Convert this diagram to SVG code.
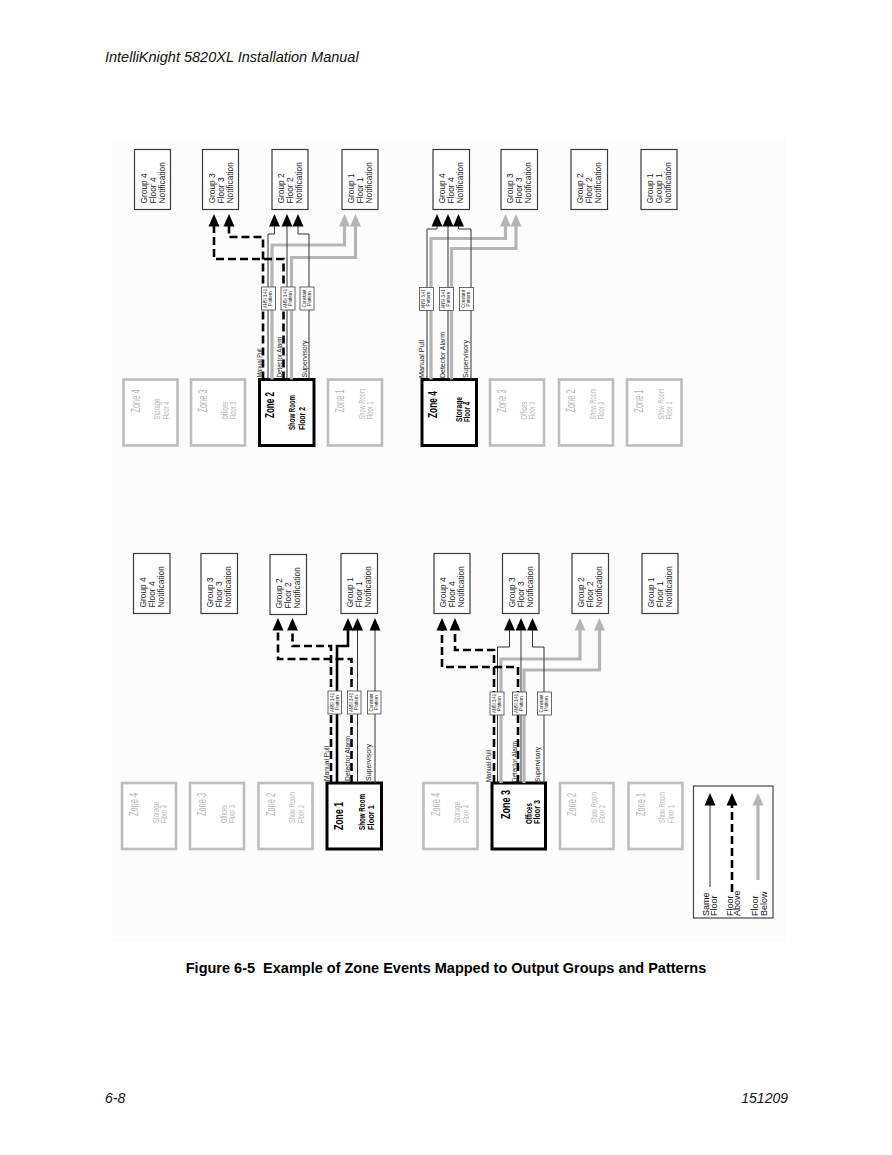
<svg xmlns="http://www.w3.org/2000/svg" xmlns:xlink="http://www.w3.org/1999/xlink" width="892" height="1155" viewBox="0 0 892 1155">
<style>
text{font-family:"Liberation Sans",Arial,Helvetica,sans-serif}
.grp rect{fill:#fff;stroke:#3a3a3a;stroke-width:1.2}
.gt{font-size:8.4px;fill:#222}
.zoff rect{fill:#fff;stroke:#bdbdbd;stroke-width:2.6}
.zoff text{fill:#b5b5b5}
.zn0{font-size:12px}
.zs0{font-size:8.3px}
.zon rect{fill:#fff;stroke:#000;stroke-width:3}
.zn1{font-size:13.5px;font-weight:bold;fill:#000}
.zs1{font-size:9.2px;font-weight:bold;fill:#000}
.pat rect{fill:#fff;stroke:#444;stroke-width:0.8}
.pt{font-size:4.6px;fill:#222;text-anchor:middle}
.sig{font-size:7px;fill:#222}
.thin{fill:none;stroke:#333;stroke-width:1}
.dash{fill:none;stroke:#000;stroke-width:2.6;stroke-dasharray:8 4}
.gray{fill:none;stroke:#b5b5b5;stroke-width:3.2}
.thick{fill:none;stroke:#000;stroke-width:2.6}
.ab{fill:#000}
.ag{fill:#b5b5b5}
.lg{font-size:9px;fill:#111}
</style>
<defs>
<path id="ah" d="M0,0 L5.5,12.5 L-5.5,12.5 Z"/>
</defs>
<rect x="112" y="137" width="673" height="805" fill="#fcfcfc"/>
<text x="105" y="62" font-size="14.5" font-style="italic" fill="#111">IntelliKnight 5820XL Installation Manual</text>

<!-- ===== Top-left quadrant: Zone 2 ===== -->
<g id="tl-group4" class="grp"><rect x="134.5" y="149.5" width="36" height="60"/>
<text class="gt" transform="translate(146.5,203.5) rotate(-90)">Group 4</text>
<text class="gt" transform="translate(155.5,203.5) rotate(-90)">Floor 4</text>
<text class="gt" transform="translate(164.5,203.5) rotate(-90)">Notification</text></g>
<g id="tl-group3" class="grp"><rect x="202.5" y="149.5" width="36" height="60"/>
<text class="gt" transform="translate(214.5,203.5) rotate(-90)">Group 3</text>
<text class="gt" transform="translate(223.5,203.5) rotate(-90)">Floor 3</text>
<text class="gt" transform="translate(232.5,203.5) rotate(-90)">Notification</text></g>
<g id="tl-group2" class="grp"><rect x="272" y="149.5" width="36" height="60"/>
<text class="gt" transform="translate(284,203.5) rotate(-90)">Group 2</text>
<text class="gt" transform="translate(293,203.5) rotate(-90)">Floor 2</text>
<text class="gt" transform="translate(302,203.5) rotate(-90)">Notification</text></g>
<g id="tl-group1" class="grp"><rect x="342" y="149.5" width="36" height="60"/>
<text class="gt" transform="translate(354,203.5) rotate(-90)">Group 1</text>
<text class="gt" transform="translate(363,203.5) rotate(-90)">Floor 1</text>
<text class="gt" transform="translate(372,203.5) rotate(-90)">Notification</text></g>

<g id="tl-zone4" class="zoff"><rect x="123.5" y="379.5" width="54" height="66"/>
<text class="zn0" transform="translate(139.8,412.5) rotate(-90)" textLength="23" lengthAdjust="spacingAndGlyphs">Zone 4</text>
<text class="zs0" transform="translate(160.3,419.5) rotate(-90)" textLength="21" lengthAdjust="spacingAndGlyphs">Storage</text>
<text class="zs0" transform="translate(168.8,419.5) rotate(-90)" textLength="18" lengthAdjust="spacingAndGlyphs">Floor 4</text></g>
<g id="tl-zone3" class="zoff"><rect x="191" y="379.5" width="54" height="66"/>
<text class="zn0" transform="translate(207.3,412.5) rotate(-90)" textLength="23" lengthAdjust="spacingAndGlyphs">Zone 3</text>
<text class="zs0" transform="translate(227.8,419.5) rotate(-90)" textLength="18" lengthAdjust="spacingAndGlyphs">Offices</text>
<text class="zs0" transform="translate(236.3,419.5) rotate(-90)" textLength="18" lengthAdjust="spacingAndGlyphs">Floor 3</text></g>
<g id="tl-zone2" class="zon"><rect x="259.5" y="379.5" width="54.5" height="66"/>
<text class="zn1" transform="translate(274,418) rotate(-90)" textLength="26" lengthAdjust="spacingAndGlyphs">Zone 2</text>
<text class="zs1" transform="translate(295,430) rotate(-90)" textLength="35" lengthAdjust="spacingAndGlyphs">Show Room</text>
<text class="zs1" transform="translate(305,430) rotate(-90)" textLength="23" lengthAdjust="spacingAndGlyphs">Floor 2</text></g>
<g id="tl-zone1" class="zoff"><rect x="328" y="379.5" width="54" height="66"/>
<text class="zn0" transform="translate(344.3,412.5) rotate(-90)" textLength="23" lengthAdjust="spacingAndGlyphs">Zone 1</text>
<text class="zs0" transform="translate(364.8,419.5) rotate(-90)" textLength="31" lengthAdjust="spacingAndGlyphs">Show Room</text>
<text class="zs0" transform="translate(373.3,419.5) rotate(-90)" textLength="18" lengthAdjust="spacingAndGlyphs">Floor 1</text></g>

<g id="tl-connectors">
<path class="gray" d="M272,379.5 V245 H344.5 V226 M291.5,379.5 V257.5 H355.5 V226"/>
<path class="thin" d="M268,379.5 V234 H274.5 V225 M287,379.5 V225 M309,379.5 V234 H298 V225"/>
<path class="dash" d="M263,379.5 V237 H229 V226 M283.5,379.5 V259 H214 V226"/>
<use xlink:href="#ah" href="#ah" class="ab" x="214" y="214"/>
<use xlink:href="#ah" href="#ah" class="ab" x="229" y="214"/>
<use xlink:href="#ah" href="#ah" class="ab" x="274.5" y="214"/>
<use xlink:href="#ah" href="#ah" class="ab" x="287" y="214"/>
<use xlink:href="#ah" href="#ah" class="ab" x="298" y="214"/>
<use xlink:href="#ah" href="#ah" class="ag" x="344.5" y="214"/>
<use xlink:href="#ah" href="#ah" class="ag" x="355.5" y="214"/>
</g>
<g id="tl-patterns" class="pat">
<rect x="261.5" y="287" width="14" height="23"/>
<text class="pt" transform="translate(267,298.5) rotate(-90)" textLength="19" lengthAdjust="spacingAndGlyphs">ANSI 3.41</text>
<text class="pt" transform="translate(272.2,298.5) rotate(-90)">Pattern</text>
<rect x="281" y="287" width="14" height="23"/>
<text class="pt" transform="translate(286.5,298.5) rotate(-90)" textLength="19" lengthAdjust="spacingAndGlyphs">ANSI 3.41</text>
<text class="pt" transform="translate(291.7,298.5) rotate(-90)">Pattern</text>
<rect x="300" y="287" width="14" height="23"/>
<text class="pt" transform="translate(305.5,298.5) rotate(-90)" textLength="18" lengthAdjust="spacingAndGlyphs">Constant</text>
<text class="pt" transform="translate(310.7,298.5) rotate(-90)">Pattern</text>
</g>
<g id="tl-signals">
<text class="sig" transform="translate(261.8,377.5) rotate(-90)" textLength="29" lengthAdjust="spacingAndGlyphs">Manual Pull</text>
<text class="sig" transform="translate(282,377.5) rotate(-90)" textLength="41" lengthAdjust="spacingAndGlyphs">Detector Alarm</text>
<text class="sig" transform="translate(307,377.5) rotate(-90)" textLength="37" lengthAdjust="spacingAndGlyphs">Supervisory</text>
</g>

<!-- ===== Top-right quadrant: Zone 4 ===== -->
<g id="tr-group4" class="grp"><rect x="433" y="149.5" width="36.5" height="60"/>
<text class="gt" transform="translate(445,203.5) rotate(-90)">Group 4</text>
<text class="gt" transform="translate(454,203.5) rotate(-90)">Floor 4</text>
<text class="gt" transform="translate(463,203.5) rotate(-90)">Notification</text></g>
<g id="tr-group3" class="grp"><rect x="501" y="149.5" width="36.5" height="60"/>
<text class="gt" transform="translate(513,203.5) rotate(-90)">Group 3</text>
<text class="gt" transform="translate(522,203.5) rotate(-90)">Floor 3</text>
<text class="gt" transform="translate(531,203.5) rotate(-90)">Notification</text></g>
<g id="tr-group2" class="grp"><rect x="571" y="149.5" width="36.5" height="60"/>
<text class="gt" transform="translate(583,203.5) rotate(-90)">Group 2</text>
<text class="gt" transform="translate(592,203.5) rotate(-90)">Floor 2</text>
<text class="gt" transform="translate(601,203.5) rotate(-90)">Notification</text></g>
<g id="tr-group1" class="grp"><rect x="641" y="149.5" width="36" height="60"/>
<text class="gt" transform="translate(653,203.5) rotate(-90)">Group 1</text>
<text class="gt" transform="translate(662,203.5) rotate(-90)">Group 1</text>
<text class="gt" transform="translate(671,203.5) rotate(-90)">Notification</text></g>

<g id="tr-zone4" class="zon"><rect x="422" y="379.5" width="54.5" height="66"/>
<text class="zn1" transform="translate(436.5,418) rotate(-90)" textLength="27" lengthAdjust="spacingAndGlyphs">Zone 4</text>
<text class="zs1" transform="translate(461.6,422) rotate(-90)" textLength="25" lengthAdjust="spacingAndGlyphs">Storage</text>
<text class="zs1" transform="translate(470,422) rotate(-90)" textLength="20" lengthAdjust="spacingAndGlyphs">Floor 4</text></g>
<g id="tr-zone3" class="zoff"><rect x="490" y="379.5" width="54" height="66"/>
<text class="zn0" transform="translate(506.3,412.5) rotate(-90)" textLength="23" lengthAdjust="spacingAndGlyphs">Zone 3</text>
<text class="zs0" transform="translate(526.8,419.5) rotate(-90)" textLength="18" lengthAdjust="spacingAndGlyphs">Offices</text>
<text class="zs0" transform="translate(535.3,419.5) rotate(-90)" textLength="18" lengthAdjust="spacingAndGlyphs">Floor 3</text></g>
<g id="tr-zone2" class="zoff"><rect x="559" y="379.5" width="54" height="66"/>
<text class="zn0" transform="translate(575.3,412.5) rotate(-90)" textLength="23" lengthAdjust="spacingAndGlyphs">Zone 2</text>
<text class="zs0" transform="translate(595.8,419.5) rotate(-90)" textLength="31" lengthAdjust="spacingAndGlyphs">Show Room</text>
<text class="zs0" transform="translate(604.3,419.5) rotate(-90)" textLength="18" lengthAdjust="spacingAndGlyphs">Floor 2</text></g>
<g id="tr-zone1" class="zoff"><rect x="627" y="379.5" width="54.5" height="66"/>
<text class="zn0" transform="translate(643.3,412.5) rotate(-90)" textLength="23" lengthAdjust="spacingAndGlyphs">Zone 1</text>
<text class="zs0" transform="translate(663.8,419.5) rotate(-90)" textLength="31" lengthAdjust="spacingAndGlyphs">Show Room</text>
<text class="zs0" transform="translate(672.3,419.5) rotate(-90)" textLength="18" lengthAdjust="spacingAndGlyphs">Floor 1</text></g>

<g id="tr-connectors">
<path class="gray" d="M431,379.5 V238.5 H505.5 V226 M451.5,379.5 V248.5 H516 V226"/>
<path class="thin" d="M427,379.5 V229 H437 V225 M448,379.5 V225 M471,379.5 V229 H458.5 V225"/>
<use xlink:href="#ah" href="#ah" class="ab" x="437" y="214"/>
<use xlink:href="#ah" href="#ah" class="ab" x="448" y="214"/>
<use xlink:href="#ah" href="#ah" class="ab" x="458.5" y="214"/>
<use xlink:href="#ah" href="#ah" class="ag" x="505.5" y="214"/>
<use xlink:href="#ah" href="#ah" class="ag" x="516" y="214"/>
</g>
<g id="tr-patterns" class="pat">
<rect x="419.5" y="287.5" width="14" height="23"/>
<text class="pt" transform="translate(425,299) rotate(-90)" textLength="19" lengthAdjust="spacingAndGlyphs">ANSI 3.41</text>
<text class="pt" transform="translate(430.2,299) rotate(-90)">Pattern</text>
<rect x="439.5" y="287.5" width="14" height="23"/>
<text class="pt" transform="translate(445,299) rotate(-90)" textLength="19" lengthAdjust="spacingAndGlyphs">ANSI 3.41</text>
<text class="pt" transform="translate(450.2,299) rotate(-90)">Pattern</text>
<rect x="459.5" y="287.5" width="14" height="23"/>
<text class="pt" transform="translate(465,299) rotate(-90)" textLength="18" lengthAdjust="spacingAndGlyphs">Constant</text>
<text class="pt" transform="translate(470.2,299) rotate(-90)">Pattern</text>
</g>
<g id="tr-signals">
<text class="sig" transform="translate(424.2,378) rotate(-90)" textLength="38" lengthAdjust="spacingAndGlyphs">Manual Pull</text>
<text class="sig" transform="translate(444.8,378) rotate(-90)" textLength="46" lengthAdjust="spacingAndGlyphs">Detector Alarm</text>
<text class="sig" transform="translate(467.5,378) rotate(-90)" textLength="38" lengthAdjust="spacingAndGlyphs">Supervisory</text>
</g>

<!-- ===== Bottom-left quadrant: Zone 1 ===== -->
<g id="bl-group4" class="grp"><rect x="133.5" y="553.5" width="36.5" height="60"/>
<text class="gt" transform="translate(145.5,607.5) rotate(-90)">Group 4</text>
<text class="gt" transform="translate(154.5,607.5) rotate(-90)">Floor 4</text>
<text class="gt" transform="translate(163.5,607.5) rotate(-90)">Notification</text></g>
<g id="bl-group3" class="grp"><rect x="201" y="553.5" width="36.5" height="60"/>
<text class="gt" transform="translate(213,607.5) rotate(-90)">Group 3</text>
<text class="gt" transform="translate(222,607.5) rotate(-90)">Floor 3</text>
<text class="gt" transform="translate(231,607.5) rotate(-90)">Notification</text></g>
<g id="bl-group2" class="grp"><rect x="270" y="554.5" width="36.5" height="60"/>
<text class="gt" transform="translate(282,608.5) rotate(-90)">Group 2</text>
<text class="gt" transform="translate(291,608.5) rotate(-90)">Floor 2</text>
<text class="gt" transform="translate(300,608.5) rotate(-90)">Notification</text></g>
<g id="bl-group1" class="grp"><rect x="341" y="553.5" width="36.5" height="60"/>
<text class="gt" transform="translate(353,607.5) rotate(-90)">Group 1</text>
<text class="gt" transform="translate(362,607.5) rotate(-90)">Floor 1</text>
<text class="gt" transform="translate(371,607.5) rotate(-90)">Notification</text></g>

<g id="bl-zone4" class="zoff"><rect x="122" y="783" width="54" height="66"/>
<text class="zn0" transform="translate(138.3,816) rotate(-90)" textLength="23" lengthAdjust="spacingAndGlyphs">Zone 4</text>
<text class="zs0" transform="translate(158.8,823) rotate(-90)" textLength="21" lengthAdjust="spacingAndGlyphs">Storage</text>
<text class="zs0" transform="translate(167.3,823) rotate(-90)" textLength="18" lengthAdjust="spacingAndGlyphs">Floor 4</text></g>
<g id="bl-zone3" class="zoff"><rect x="190" y="783" width="54" height="66"/>
<text class="zn0" transform="translate(206.3,816) rotate(-90)" textLength="23" lengthAdjust="spacingAndGlyphs">Zone 3</text>
<text class="zs0" transform="translate(226.8,823) rotate(-90)" textLength="18" lengthAdjust="spacingAndGlyphs">Offices</text>
<text class="zs0" transform="translate(235.3,823) rotate(-90)" textLength="18" lengthAdjust="spacingAndGlyphs">Floor 3</text></g>
<g id="bl-zone2" class="zoff"><rect x="258.5" y="783" width="54" height="66"/>
<text class="zn0" transform="translate(274.8,816) rotate(-90)" textLength="23" lengthAdjust="spacingAndGlyphs">Zone 2</text>
<text class="zs0" transform="translate(295.3,823) rotate(-90)" textLength="31" lengthAdjust="spacingAndGlyphs">Show Room</text>
<text class="zs0" transform="translate(303.8,823) rotate(-90)" textLength="18" lengthAdjust="spacingAndGlyphs">Floor 2</text></g>
<g id="bl-zone1" class="zon"><rect x="327" y="783" width="54.5" height="66"/>
<text class="zn1" transform="translate(343,830) rotate(-90)" textLength="28" lengthAdjust="spacingAndGlyphs">Zone 1</text>
<text class="zs1" transform="translate(365,830) rotate(-90)" textLength="36" lengthAdjust="spacingAndGlyphs">Show Room</text>
<text class="zs1" transform="translate(374,830) rotate(-90)" textLength="25" lengthAdjust="spacingAndGlyphs">Floor 1</text></g>

<g id="bl-connectors">
<path class="thin" d="M357.5,783 V629 M375,783 V629"/>
<path class="thick" d="M337,783 V646 H348 V629"/>
<path class="dash" d="M331,783 V646 H292.5 V630 M351.5,783 V659 H278 V630"/>
<use xlink:href="#ah" href="#ah" class="ab" x="278" y="618"/>
<use xlink:href="#ah" href="#ah" class="ab" x="292.5" y="618"/>
<use xlink:href="#ah" href="#ah" class="ab" x="348" y="618"/>
<use xlink:href="#ah" href="#ah" class="ab" x="357.5" y="618"/>
<use xlink:href="#ah" href="#ah" class="ab" x="375" y="618"/>
</g>
<g id="bl-patterns" class="pat">
<rect x="328" y="691" width="13.5" height="23"/>
<text class="pt" transform="translate(333.5,702.5) rotate(-90)" textLength="19" lengthAdjust="spacingAndGlyphs">ANSI 3.41</text>
<text class="pt" transform="translate(338.7,702.5) rotate(-90)">Pattern</text>
<rect x="347.5" y="691" width="13.5" height="23"/>
<text class="pt" transform="translate(353,702.5) rotate(-90)" textLength="19" lengthAdjust="spacingAndGlyphs">ANSI 3.41</text>
<text class="pt" transform="translate(358.2,702.5) rotate(-90)">Pattern</text>
<rect x="367.5" y="691" width="13.5" height="23"/>
<text class="pt" transform="translate(373,702.5) rotate(-90)" textLength="18" lengthAdjust="spacingAndGlyphs">Constant</text>
<text class="pt" transform="translate(378.2,702.5) rotate(-90)">Pattern</text>
</g>
<g id="bl-signals">
<text class="sig" transform="translate(328.5,781) rotate(-90)" textLength="35" lengthAdjust="spacingAndGlyphs">Manual Pull</text>
<text class="sig" transform="translate(350,781) rotate(-90)" textLength="45" lengthAdjust="spacingAndGlyphs">Detector Alarm</text>
<text class="sig" transform="translate(370.8,781) rotate(-90)" textLength="37" lengthAdjust="spacingAndGlyphs">Supervisory</text>
</g>

<!-- ===== Bottom-right quadrant: Zone 3 ===== -->
<g id="br-group4" class="grp"><rect x="434" y="553.5" width="36" height="60"/>
<text class="gt" transform="translate(446,607.5) rotate(-90)">Group 4</text>
<text class="gt" transform="translate(455,607.5) rotate(-90)">Floor 4</text>
<text class="gt" transform="translate(464,607.5) rotate(-90)">Notification</text></g>
<g id="br-group3" class="grp"><rect x="502.5" y="553.5" width="36.5" height="60"/>
<text class="gt" transform="translate(514.5,607.5) rotate(-90)">Group 3</text>
<text class="gt" transform="translate(523.5,607.5) rotate(-90)">Floor 3</text>
<text class="gt" transform="translate(532.5,607.5) rotate(-90)">Notification</text></g>
<g id="br-group2" class="grp"><rect x="572" y="553.5" width="36.5" height="60"/>
<text class="gt" transform="translate(584,607.5) rotate(-90)">Group 2</text>
<text class="gt" transform="translate(593,607.5) rotate(-90)">Floor 2</text>
<text class="gt" transform="translate(602,607.5) rotate(-90)">Notification</text></g>
<g id="br-group1" class="grp"><rect x="642" y="553.5" width="36" height="60"/>
<text class="gt" transform="translate(654,607.5) rotate(-90)">Group 1</text>
<text class="gt" transform="translate(663,607.5) rotate(-90)">Floor 1</text>
<text class="gt" transform="translate(672,607.5) rotate(-90)">Notification</text></g>

<g id="br-zone4" class="zoff"><rect x="423.5" y="783" width="54" height="66"/>
<text class="zn0" transform="translate(439.8,816) rotate(-90)" textLength="23" lengthAdjust="spacingAndGlyphs">Zone 4</text>
<text class="zs0" transform="translate(460.3,823) rotate(-90)" textLength="21" lengthAdjust="spacingAndGlyphs">Storage</text>
<text class="zs0" transform="translate(468.8,823) rotate(-90)" textLength="18" lengthAdjust="spacingAndGlyphs">Floor 4</text></g>
<g id="br-zone3" class="zon"><rect x="492" y="783" width="53.5" height="66"/>
<text class="zn1" transform="translate(509.7,819) rotate(-90)" textLength="29" lengthAdjust="spacingAndGlyphs">Zone 3</text>
<text class="zs1" transform="translate(531.6,824) rotate(-90)" textLength="21" lengthAdjust="spacingAndGlyphs">Offices</text>
<text class="zs1" transform="translate(540,824) rotate(-90)" textLength="24" lengthAdjust="spacingAndGlyphs">Floor 3</text></g>
<g id="br-zone2" class="zoff"><rect x="560" y="783" width="53.5" height="66"/>
<text class="zn0" transform="translate(576.3,816) rotate(-90)" textLength="23" lengthAdjust="spacingAndGlyphs">Zone 2</text>
<text class="zs0" transform="translate(596.8,823) rotate(-90)" textLength="31" lengthAdjust="spacingAndGlyphs">Show Room</text>
<text class="zs0" transform="translate(605.3,823) rotate(-90)" textLength="18" lengthAdjust="spacingAndGlyphs">Floor 2</text></g>
<g id="br-zone1" class="zoff"><rect x="628.5" y="783" width="54" height="66"/>
<text class="zn0" transform="translate(644.8,816) rotate(-90)" textLength="23" lengthAdjust="spacingAndGlyphs">Zone 1</text>
<text class="zs0" transform="translate(665.3,823) rotate(-90)" textLength="31" lengthAdjust="spacingAndGlyphs">Show Room</text>
<text class="zs0" transform="translate(673.8,823) rotate(-90)" textLength="18" lengthAdjust="spacingAndGlyphs">Floor 1</text></g>

<g id="br-connectors">
<path class="gray" d="M501,783 V659 H580 V630 M524,783 V670 H599.5 V630"/>
<path class="thin" d="M497.5,783 V647 H509.5 V629 M521,783 V629 M544,783 V647 H532.5 V629"/>
<path class="dash" d="M494,783 V650 H455 V630 M518,783 V667 H442 V630"/>
<use xlink:href="#ah" href="#ah" class="ab" x="442" y="618"/>
<use xlink:href="#ah" href="#ah" class="ab" x="455" y="618"/>
<use xlink:href="#ah" href="#ah" class="ab" x="509.5" y="618"/>
<use xlink:href="#ah" href="#ah" class="ab" x="521" y="618"/>
<use xlink:href="#ah" href="#ah" class="ab" x="532.5" y="618"/>
<use xlink:href="#ah" href="#ah" class="ag" x="580" y="618"/>
<use xlink:href="#ah" href="#ah" class="ag" x="599.5" y="618"/>
</g>
<g id="br-patterns" class="pat">
<rect x="490" y="692" width="14" height="23"/>
<text class="pt" transform="translate(495.5,703.5) rotate(-90)" textLength="19" lengthAdjust="spacingAndGlyphs">ANSI 3.41</text>
<text class="pt" transform="translate(500.7,703.5) rotate(-90)">Pattern</text>
<rect x="512.5" y="692" width="14" height="23"/>
<text class="pt" transform="translate(518,703.5) rotate(-90)" textLength="19" lengthAdjust="spacingAndGlyphs">ANSI 3.41</text>
<text class="pt" transform="translate(523.2,703.5) rotate(-90)">Pattern</text>
<rect x="537.5" y="692" width="14" height="23"/>
<text class="pt" transform="translate(543,703.5) rotate(-90)" textLength="18" lengthAdjust="spacingAndGlyphs">Constant</text>
<text class="pt" transform="translate(548.2,703.5) rotate(-90)">Pattern</text>
</g>
<g id="br-signals">
<text class="sig" transform="translate(490.8,782) rotate(-90)" textLength="32" lengthAdjust="spacingAndGlyphs">Manual Pull</text>
<text class="sig" transform="translate(516.5,782) rotate(-90)" textLength="41" lengthAdjust="spacingAndGlyphs">Detector Alarm</text>
<text class="sig" transform="translate(540.2,782) rotate(-90)" textLength="35" lengthAdjust="spacingAndGlyphs">Supervisory</text>
</g>

<!-- ===== Legend ===== -->
<g id="legend">
<rect x="693.5" y="786" width="79.5" height="132" fill="#fff" stroke="#444" stroke-width="1.2"/>
<path class="thin" d="M710,887 V804"/>
<path class="dash" d="M732,892 V805"/>
<path class="gray" d="M758,880 V805"/>
<use xlink:href="#ah" href="#ah" class="ab" x="710" y="793"/>
<use xlink:href="#ah" href="#ah" class="ab" x="732" y="793"/>
<use xlink:href="#ah" href="#ah" class="ag" x="758" y="793"/>
<text class="lg" transform="translate(708.7,916) rotate(-90)">Same</text>
<text class="lg" transform="translate(716.9,916) rotate(-90)">Floor</text>
<text class="lg" transform="translate(732.5,916) rotate(-90)">Floor</text>
<text class="lg" transform="translate(740,916) rotate(-90)">Above</text>
<text class="lg" transform="translate(758.2,916) rotate(-90)">Floor</text>
<text class="lg" transform="translate(767.2,916) rotate(-90)">Below</text>
</g>

<text x="446" y="973" font-size="14.5" font-weight="bold" text-anchor="middle" fill="#000" xml:space="preserve">Figure 6-5  Example of Zone Events Mapped to Output Groups and Patterns</text>
<text x="105" y="1103" font-size="14" font-style="italic" fill="#111">6-8</text>
<text x="788" y="1103" font-size="14" font-style="italic" text-anchor="end" fill="#111">151209</text>
</svg>
